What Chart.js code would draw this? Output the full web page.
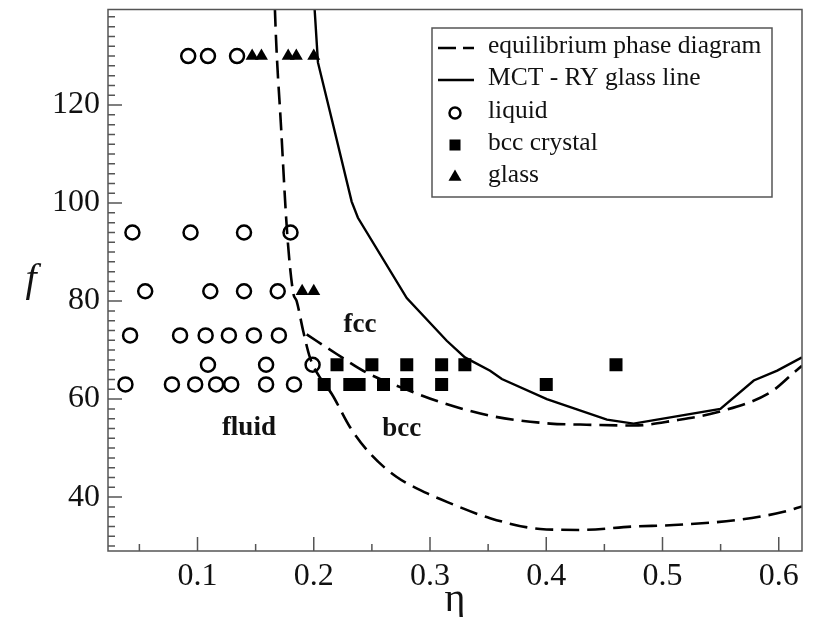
<!DOCTYPE html>
<html>
<head>
<meta charset="utf-8">
<script src="https://cdn.jsdelivr.net/npm/chart.js@4/dist/chart.umd.min.js"></script>
<style>
  html, body { margin: 0; background: #fff; }
  #wrap { width: 817px; height: 617px; }
</style>
</head>
<body>
<div id="wrap"><canvas id="chart"></canvas></div>
<script>
// tick labels
const etaTicks = [0.1, 0.2, 0.3, 0.4, 0.5, 0.6];
const fTicks = [40, 60, 80, 100, 120];

// equilibrium phase diagram: fluid boundary running into the lower bcc branch
const eqLowEta = [0.166, 0.1666, 0.172, 0.1772, 0.1823, 0.1853, 0.1909, 0.1967, 0.2053, 0.2154, 0.2311, 0.2484, 0.2714, 0.2972, 0.3087, 0.3517, 0.3948, 0.4292, 0.4751, 0.5096, 0.567, 0.6043, 0.62];
const eqLowF   = [145, 139.4, 115, 93.6, 81.7, 80, 73.9, 68.5, 64.4, 61.1, 54.3, 48.9, 44.1, 40.8, 39.6, 35.7, 33.5, 33.3, 34.0, 34.3, 35.4, 37.0, 38.1];
// fcc / bcc boundary
const eqUpEta = [0.1939, 0.2197, 0.2455, 0.2857, 0.3087, 0.3517, 0.4034, 0.4292, 0.4751, 0.5096, 0.547, 0.5929, 0.613, 0.62];
const eqUpF   = [73.2, 69.2, 65.4, 61.4, 59.4, 56.6, 55.0, 54.8, 54.6, 55.6, 57.3, 61.4, 65.4, 66.8];

// MCT - RY glass line
const mctEta = [0.198, 0.2036, 0.2154, 0.2326, 0.238, 0.28, 0.3144, 0.330, 0.3517, 0.3618, 0.4005, 0.4522, 0.4751, 0.5498, 0.5785, 0.5987, 0.62];
const mctF   = [150, 128.7, 117.2, 100.3, 97, 80.6, 71.9, 68.5, 65.8, 64.1, 60.0, 55.8, 55.0, 58.0, 63.8, 65.8, 68.5];

// simulation points
const liquidEta = [0.092, 0.109, 0.134,
  0.044, 0.094, 0.140, 0.180,
  0.055, 0.111, 0.140, 0.169,
  0.042, 0.085, 0.107, 0.127, 0.1485, 0.170,
  0.109, 0.159, 0.199,
  0.038, 0.078, 0.098, 0.116, 0.129, 0.159, 0.183];
const liquidF = [130, 130, 130,
  94, 94, 94, 94,
  82, 82, 82, 82,
  73, 73, 73, 73, 73, 73,
  67, 67, 67,
  63, 63, 63, 63, 63, 63, 63];

const bccEta = [0.22, 0.25, 0.28, 0.31, 0.33, 0.46,
  0.209, 0.231, 0.239, 0.26, 0.28, 0.31, 0.40];
const bccF = [67, 67, 67, 67, 67, 67,
  63, 63, 63, 63, 63, 63, 63];

const glassEta = [0.147, 0.155, 0.178, 0.185, 0.2, 0.19, 0.2];
const glassF   = [130, 130, 130, 130, 130, 82, 82];

const pts = (xs, ys) => xs.map((v, i) => ({ x: v, y: ys[i] }));

const serif = 'Liberation Serif, Times New Roman, serif';
const ink = '#111';
const axisColor = '#555';

const noPad = s => { s.paddingTop = 0; s.paddingBottom = 0; s.paddingLeft = 0; s.paddingRight = 0; };

// frame, inward ticks, region labels, f label and legend
const decor = {
  id: 'decor',
  afterDatasetsDraw(chart) {
    const { ctx, chartArea: a, scales: { x, y } } = chart;
    ctx.save();
    ctx.strokeStyle = axisColor;
    ctx.lineWidth = 1.5;
    ctx.strokeRect(a.left, a.top, a.right - a.left, a.bottom - a.top);
    ctx.beginPath();
    for (let i = 1; i * 0.05 < x.max; i++) {
      const px = x.getPixelForValue(i * 0.05);
      const len = i % 2 === 0 ? 14 : 7;
      ctx.moveTo(px, a.bottom);
      ctx.lineTo(px, a.bottom - len);
    }
    for (let v = 30; v < y.max; v += 2) {
      const py = y.getPixelForValue(v);
      const len = v % 20 === 0 ? 14 : 7;
      ctx.moveTo(a.left, py);
      ctx.lineTo(a.left + len, py);
    }
    ctx.stroke();

    ctx.fillStyle = ink;
    ctx.font = 'bold 27px ' + serif;
    ctx.textAlign = 'center';
    ctx.textBaseline = 'middle';
    ctx.fillText('fluid', x.getPixelForValue(0.1442), y.getPixelForValue(54.0));
    ctx.fillText('fcc', x.getPixelForValue(0.2398), y.getPixelForValue(75.1));
    ctx.fillText('bcc', x.getPixelForValue(0.2757), y.getPixelForValue(53.8));

    ctx.font = 'italic 40px ' + serif;
    ctx.textBaseline = 'alphabetic';
    ctx.fillText('f', 31, 291);
    ctx.restore();
  },
  afterDraw(chart) {
    const { ctx } = chart;
    const ds = chart.data.datasets;
    ctx.save();
    ctx.fillStyle = '#fff';
    ctx.fillRect(432, 28, 340, 169);
    ctx.strokeStyle = axisColor;
    ctx.lineWidth = 1.5;
    ctx.strokeRect(432, 28, 340, 169);

    const rows = [48, 80, 113, 145, 177];
    ctx.strokeStyle = '#000';
    ctx.lineWidth = 2.5;
    ctx.setLineDash([18, 7]);
    ctx.beginPath(); ctx.moveTo(438, rows[0]); ctx.lineTo(474, rows[0]); ctx.stroke();
    ctx.setLineDash([]);
    ctx.lineWidth = 2.5;
    ctx.beginPath(); ctx.moveTo(438, rows[1]); ctx.lineTo(474, rows[1]); ctx.stroke();

    const H = Chart.helpers;
    ctx.lineWidth = 2.5;
    ctx.fillStyle = 'rgba(0,0,0,0)';
    H.drawPoint(ctx, { pointStyle: 'circle', radius: 5.5, borderWidth: 2.5 }, 455, rows[2]);
    ctx.fillStyle = '#000';
    H.drawPoint(ctx, { pointStyle: 'rect', radius: 7.8, borderWidth: 0 }, 455, rows[3]);
    H.drawPoint(ctx, { pointStyle: 'triangle', radius: 7.5, borderWidth: 0 }, 455, rows[4]);

    const labels = [ds[4].label, ds[3].label, ds[0].label, ds[1].label, ds[2].label];
    ctx.fillStyle = ink;
    ctx.font = '25.5px ' + serif;
    ctx.textAlign = 'left';
    ctx.textBaseline = 'alphabetic';
    labels.forEach((t, i) => ctx.fillText(t, 488, rows[i] + 5));
    ctx.restore();
  }
};

new Chart(document.getElementById('chart'), {
  type: 'scatter',
  data: {
    datasets: [
      {
        label: 'liquid',
        data: pts(liquidEta, liquidF),
        pointStyle: 'circle',
        pointRadius: 7,
        borderWidth: 2.5,
        borderColor: '#000',
        backgroundColor: 'rgba(0,0,0,0)',
        order: 0
      },
      {
        label: 'bcc crystal',
        data: pts(bccEta, bccF),
        pointStyle: 'rect',
        pointRadius: 9.2,
        borderWidth: 0,
        backgroundColor: '#000',
        order: 0
      },
      {
        label: 'glass',
        data: pts(glassEta, glassF),
        pointStyle: 'triangle',
        pointRadius: 7.5,
        borderWidth: 0,
        backgroundColor: '#000',
        order: 0
      },
      {
        label: 'MCT - RY glass line',
        data: pts(mctEta, mctF),
        showLine: true,
        borderColor: '#000',
        borderWidth: 2.4,
        pointRadius: 0,
        order: 1
      },
      {
        label: 'equilibrium phase diagram',
        data: pts(eqLowEta, eqLowF),
        showLine: true,
        borderColor: '#000',
        borderWidth: 2.6,
        borderDash: [18, 8],
        cubicInterpolationMode: 'monotone',
        pointRadius: 0,
        order: 1
      },
      {
        label: 'equilibrium phase diagram',
        data: pts(eqUpEta, eqUpF),
        showLine: true,
        borderColor: '#000',
        borderWidth: 2.6,
        borderDash: [18, 8],
        cubicInterpolationMode: 'monotone',
        pointRadius: 0,
        order: 1
      }
    ]
  },
  options: {
    responsive: true,
    maintainAspectRatio: false,
    animation: false,
    layout: { padding: { top: 7, right: 15, left: 0, bottom: 0 } },
    plugins: { legend: { display: false }, tooltip: { enabled: false } },
    scales: {
      x: {
        type: 'linear',
        min: 0.023,
        max: 0.62,
        afterBuildTicks: s => { s.ticks = etaTicks.map(v => ({ value: v })); },
        afterFit: s => { s.height = 66; noPad(s); },
        grid: { display: false, drawTicks: false },
        border: { display: false },
        ticks: {
          font: { family: serif, size: 32 },
          color: ink,
          padding: 6,
          maxRotation: 0,
          callback: v => String(v)
        },
        title: {
          display: true,
          text: 'η',
          font: { family: serif, size: 40 },
          color: ink,
          padding: { top: 0, bottom: -7 }
        }
      },
      y: {
        type: 'linear',
        min: 29,
        max: 139.5,
        afterBuildTicks: s => { s.ticks = fTicks.map(v => ({ value: v })); },
        afterFit: s => { s.width = 108; noPad(s); },
        grid: { display: false, drawTicks: false },
        border: { display: false },
        ticks: {
          font: { family: serif, size: 32 },
          color: ink,
          padding: 8,
          callback: v => String(v)
        }
      }
    }
  },
  plugins: [decor]
});
</script>
</body>
</html>
